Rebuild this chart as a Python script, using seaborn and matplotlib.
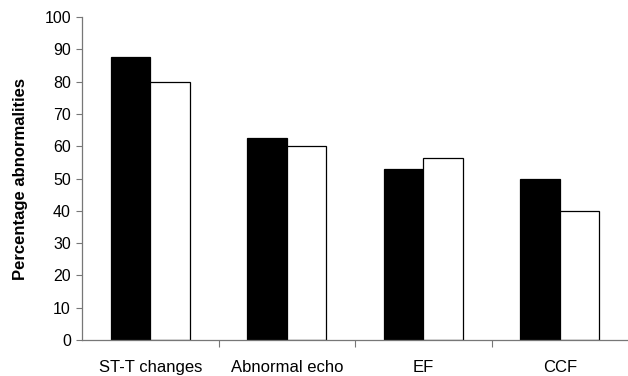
import pandas as pd
import seaborn as sns
from matplotlib import pyplot as plt

categories = ["ST-T changes", "Abnormal echo", "EF", "CCF"]
group_black = [87.5, 62.5, 53, 50]
group_white = [80, 60, 56.5, 40]
series_names = ["Group 1", "Group 2"]

df = pd.DataFrame({
    "category": categories * 2,
    "value": group_black + group_white,
    "group": [series_names[0]] * len(categories) + [series_names[1]] * len(categories),
})

sns.set_style("white")
plt.rcParams["font.family"] = ["Liberation Sans", "DejaVu Sans"]
plt.rcParams["text.color"] = "black"
plt.rcParams["axes.labelcolor"] = "black"
plt.rcParams["xtick.labelcolor"] = "black"
plt.rcParams["ytick.labelcolor"] = "black"

fig = plt.figure(figsize=(6.28, 3.76), dpi=100)
ax = fig.add_axes([0.1306, 0.0957, 0.8694, 0.8591])

sns.barplot(data=df, x="category", y="value", hue="group", order=categories,
            hue_order=series_names, palette=["black", "white"], width=0.58,
            edgecolor="black", linewidth=0.9, legend=False, ax=ax)

ax.set_xlim(-0.5, 3.5)
ax.set_ylim(0, 100)
ax.set_yticks(range(0, 101, 10))
ax.set_xlabel("")
ax.set_ylabel("Percentage abnormalities", fontsize=12, fontweight="bold", labelpad=12)

sns.despine(ax=ax)
for side in ["left", "bottom"]:
    ax.spines[side].set_color("#777777")
    ax.spines[side].set_linewidth(0.9)

ax.tick_params(axis="y", which="major", left=True, length=4, width=0.8,
               color="#777777", labelsize=11.5, pad=4)
ax.tick_params(axis="x", which="major", bottom=False, labelsize=12, pad=11)
ax.set_xticks([0.5, 1.5, 2.5], minor=True)
ax.tick_params(axis="x", which="minor", bottom=True, length=5, width=0.8, color="#777777")

fig.savefig("out.png", dpi=100)
